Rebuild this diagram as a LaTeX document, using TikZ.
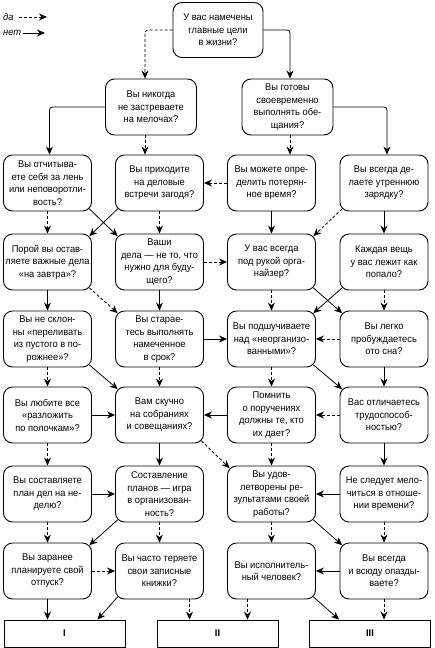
\documentclass[tikz,border=0pt]{standalone}
\usepackage{fontspec}
\setmainfont{Liberation Sans}[FakeStretch=0.95]
\usetikzlibrary{arrows.meta,calc}
\newcommand\qfont{\fontsize{9.8}{12.5}\selectfont}
\begin{document}
\begin{tikzpicture}[x=1pt,y=-1pt,
 box/.style={draw, line width=0.9pt, rounded corners=9pt, minimum width=88pt, minimum height=56pt, align=center, inner sep=1pt, font=\qfont},
 res/.style={draw, line width=0.9pt, minimum width=121pt, minimum height=27pt, inner sep=1pt, font=\qfont\bfseries},
 yes/.style={-{Stealth[length=8pt,width=7pt]}, dash pattern=on 3pt off 2pt, line width=0.8pt},
 no/.style={-{Stealth[length=8pt,width=7pt]}, line width=0.8pt},
 leg/.style={font=\qfont\itshape, inner sep=1pt, anchor=west}
]
\useasboundingbox (0,0) rectangle (434,648);
% legend
\node[leg] (da) at (2,17) {да};
\coordinate (dae) at (47,17);
\draw[yes, shorten <=4pt] (da.east) -- (dae);
\node[leg] (net) at (2,33) {нет};
\coordinate (nete) at (45,33);
\draw[no, shorten <=1pt] (net.east) -- (nete);
% nodes
\node[box, minimum width=90pt, minimum height=55pt] (T) at (218,30) {У вас намечены\\главные цели\\в жизни?};
\node[box, minimum width=91pt] (N1) at (151,107) {Вы никогда\\не застреваете\\на мелочах?};
\node[box, minimum width=91pt] (N2) at (287.5,107) {Вы готовы\\своевременно\\выполнять обе-\\щания?};
\node[box] (A1) at (47.5,183) {Вы отчитыва-\\ете себя за лень\\или неповоротли-\\вость?};
\node[box] (A2) at (159.5,183) {Вы приходите\\на деловые\\встречи загодя?};
\node[box] (A3) at (271.5,183) {Вы можете опре-\\делить потерян-\\ное время?};
\node[box] (A4) at (384,183) {Вы всегда де-\\лаете утреннюю\\зарядку?};
\node[box] (B1) at (47.5,262) {Порой вы остав-\\ляете важные дела\\«на завтра»?};
\node[box] (B2) at (159.5,262) {Ваши\\дела — не то, что\\нужно для буду-\\щего?};
\node[box] (B3) at (271.5,262) {У вас всегда\\под рукой орга-\\найзер?};
\node[box] (B4) at (384,262) {Каждая вещь\\у вас лежит как\\попало?};
\node[box] (C1) at (47.5,339) {Вы не склон-\\ны «переливать\\из пустого в по-\\рожнее»?};
\node[box] (C2) at (159.5,339) {Вы старае-\\тесь выполнять\\намеченное\\в срок?};
\node[box] (C3) at (271.5,339) {Вы подшучиваете\\над «неорганизо-\\ванными»?};
\node[box] (C4) at (384,339) {Вы легко\\пробуждаетесь\\ото сна?};
\node[box] (D1) at (47.5,415) {Вы любите все\\«разложить\\по полочкам»?};
\node[box] (D2) at (159.5,415) {Вам скучно\\на собраниях\\и совещаниях?};
\node[box] (D3) at (271.5,415) {Помнить\\о поручениях\\должны те, кто\\их дает?};
\node[box] (D4) at (384,415) {Вас отличаетесь\\трудоспособ-\\ностью?};
\node[box] (E1) at (47.5,494) {Вы составляете\\план дел на не-\\делю?};
\node[box] (E2) at (159.5,494) {Составление\\планов — игра\\в организован-\\ность?};
\node[box] (E3) at (271.5,494) {Вы удов-\\летворены ре-\\зультатами своей\\работы?};
\node[box] (E4) at (384,494) {Не следует мело-\\читься в отноше-\\нии времени?};
\node[box] (F1) at (47.5,571) {Вы заранее\\планируете свой\\отпуск?};
\node[box] (F2) at (159.5,571) {Вы часто теряете\\свои записные\\книжки?};
\node[box] (F3) at (271.5,571) {Вы исполнитель-\\ный человек?};
\node[box] (F4) at (384,571) {Вы всегда\\и всюду опазды-\\ваете?};
\node[res] (I) at (64.5,633.5) {I};
\node[res] (II) at (217.5,633.5) {II};
\node[res] (III) at (370,633.5) {III};
% top connectors
\coordinate (tn1) at ($(N1.north)+(-6,0)$);
\coordinate (tn2) at ($(N2.north)+(2.5,0)$);
\draw[yes, rounded corners=3pt] (T.west) -| (tn1);
\draw[no, rounded corners=3pt] (T.east) -| (tn2);
\coordinate (na1) at ($(A1.north)+(2,0)$);
\coordinate (na4) at ($(A4.north)+(3,0)$);
\draw[no, rounded corners=3pt] (N1.west) -| (na1);
\draw[no, rounded corners=3pt] (N2.east) -| (na4);
\coordinate (n1s) at ($(N1.south)+(-6,0)$);
\coordinate (n2s) at ($(N2.south)+(2.5,0)$);
\draw[yes] (n1s) -- (n1s |- A2.north);
\draw[yes] (n2s) -- (n2s |- A3.north);
% row A
\draw[yes] (A1.south) -- (B1.north);
\draw[no] ($(A1.south east)+(-2.6,-2.6)$) -- ($(B2.north west)+(2.6,2.6)$);
\draw[no] ($(A2.south west)+(2.6,-2.6)$) -- ($(B1.north east)+(-2.6,2.6)$);
\draw[yes] (A2.south) -- (B2.north);
\draw[yes] (A3.west) -- (A2.east);
\draw[no] (A3.south) -- (B3.north);
\draw[yes] ($(A4.south west)+(2.6,-2.6)$) -- ($(B3.north east)+(-2.6,2.6)$);
\draw[no] (A4.south) -- (B4.north);
% row B
\draw[no] (B1.south) -- (C1.north);
\draw[yes] ($(B1.south east)+(-2.6,-2.6)$) -- ($(C2.north west)+(2.6,2.6)$);
\draw[no] (B2.south) -- (C2.north);
\draw[yes] (B2.east) -- (B3.west);
\draw[yes] (B3.south) -- (C3.north);
\draw[no] ($(B3.south east)+(-2.6,-2.6)$) -- ($(C4.north west)+(2.6,2.6)$);
\draw[no] ($(B4.south west)+(2.6,-2.6)$) -- ($(C3.north east)+(-2.6,2.6)$);
\draw[yes] (B4.south) -- (C4.north);
% row C
\draw[yes] (C1.south) -- (D1.north);
\draw[no] ($(C1.south east)+(-2.6,-2.6)$) -- ($(D2.north west)+(2.6,2.6)$);
\draw[no] (C2.east) -- (C3.west);
\draw[yes] (C2.south) -- (D2.north);
\draw[yes] (C3.south) -- (D3.north);
\draw[no] ($(C3.south east)+(-2.6,-2.6)$) -- ($(D4.north west)+(2.6,2.6)$);
\draw[yes] (C4.west) -- (C3.east);
\draw[no] (C4.south) -- (D4.north);
% row D
\draw[no] (D1.east) -- (D2.west);
\draw[yes] (D1.south) -- (E1.north);
\draw[no] (D2.south) -- (E2.north);
\draw[yes] ($(D2.south east)+(-2.6,-2.6)$) -- ($(E3.north west)+(2.6,2.6)$);
\draw[no] (D3.west) -- (D2.east);
\draw[yes] (D3.south) -- (E3.north);
\draw[yes] (D4.west) -- (D3.east);
\draw[no] (D4.south) -- (E4.north);
% row E
\draw[no] (E1.east) -- (E2.west);
\draw[yes] (E1.south) -- (F1.north);
\draw[no] ($(E2.south west)+(2.6,-2.6)$) -- ($(F1.north east)+(-2.6,2.6)$);
\draw[yes] (E2.south) -- (F2.north);
\draw[yes] (E3.south) -- (F3.north);
\draw[no] ($(E3.south east)+(-2.6,-2.6)$) -- ($(F4.north west)+(2.6,2.6)$);
\draw[no] (E4.west) -- (E3.east);
\draw[yes] (E4.south) -- (F4.north);
% row F
\draw[yes] (F1.east) -- (F2.west);
\draw[no] (F4.west) -- (F3.east);
\draw[no] (F1.south) -- (F1.south |- I.north);
\draw[no] ($(F2.south west)+(2.6,-2.6)$) -- ($(I.north east)+(-28,0)$);
\coordinate (f2b) at ($(F2.south)+(30,0)$);
\draw[yes] (f2b) -- (f2b |- II.north);
\coordinate (f3b) at ($(F3.south)+(-24,0)$);
\draw[yes] (f3b) -- (f3b |- II.north);
\draw[no] ($(F3.south east)+(-2.6,-2.6)$) -- ($(III.north west)+(30,0)$);
\draw[yes] (F4.south) -- (F4.south |- III.north);
\end{tikzpicture}
\end{document}
